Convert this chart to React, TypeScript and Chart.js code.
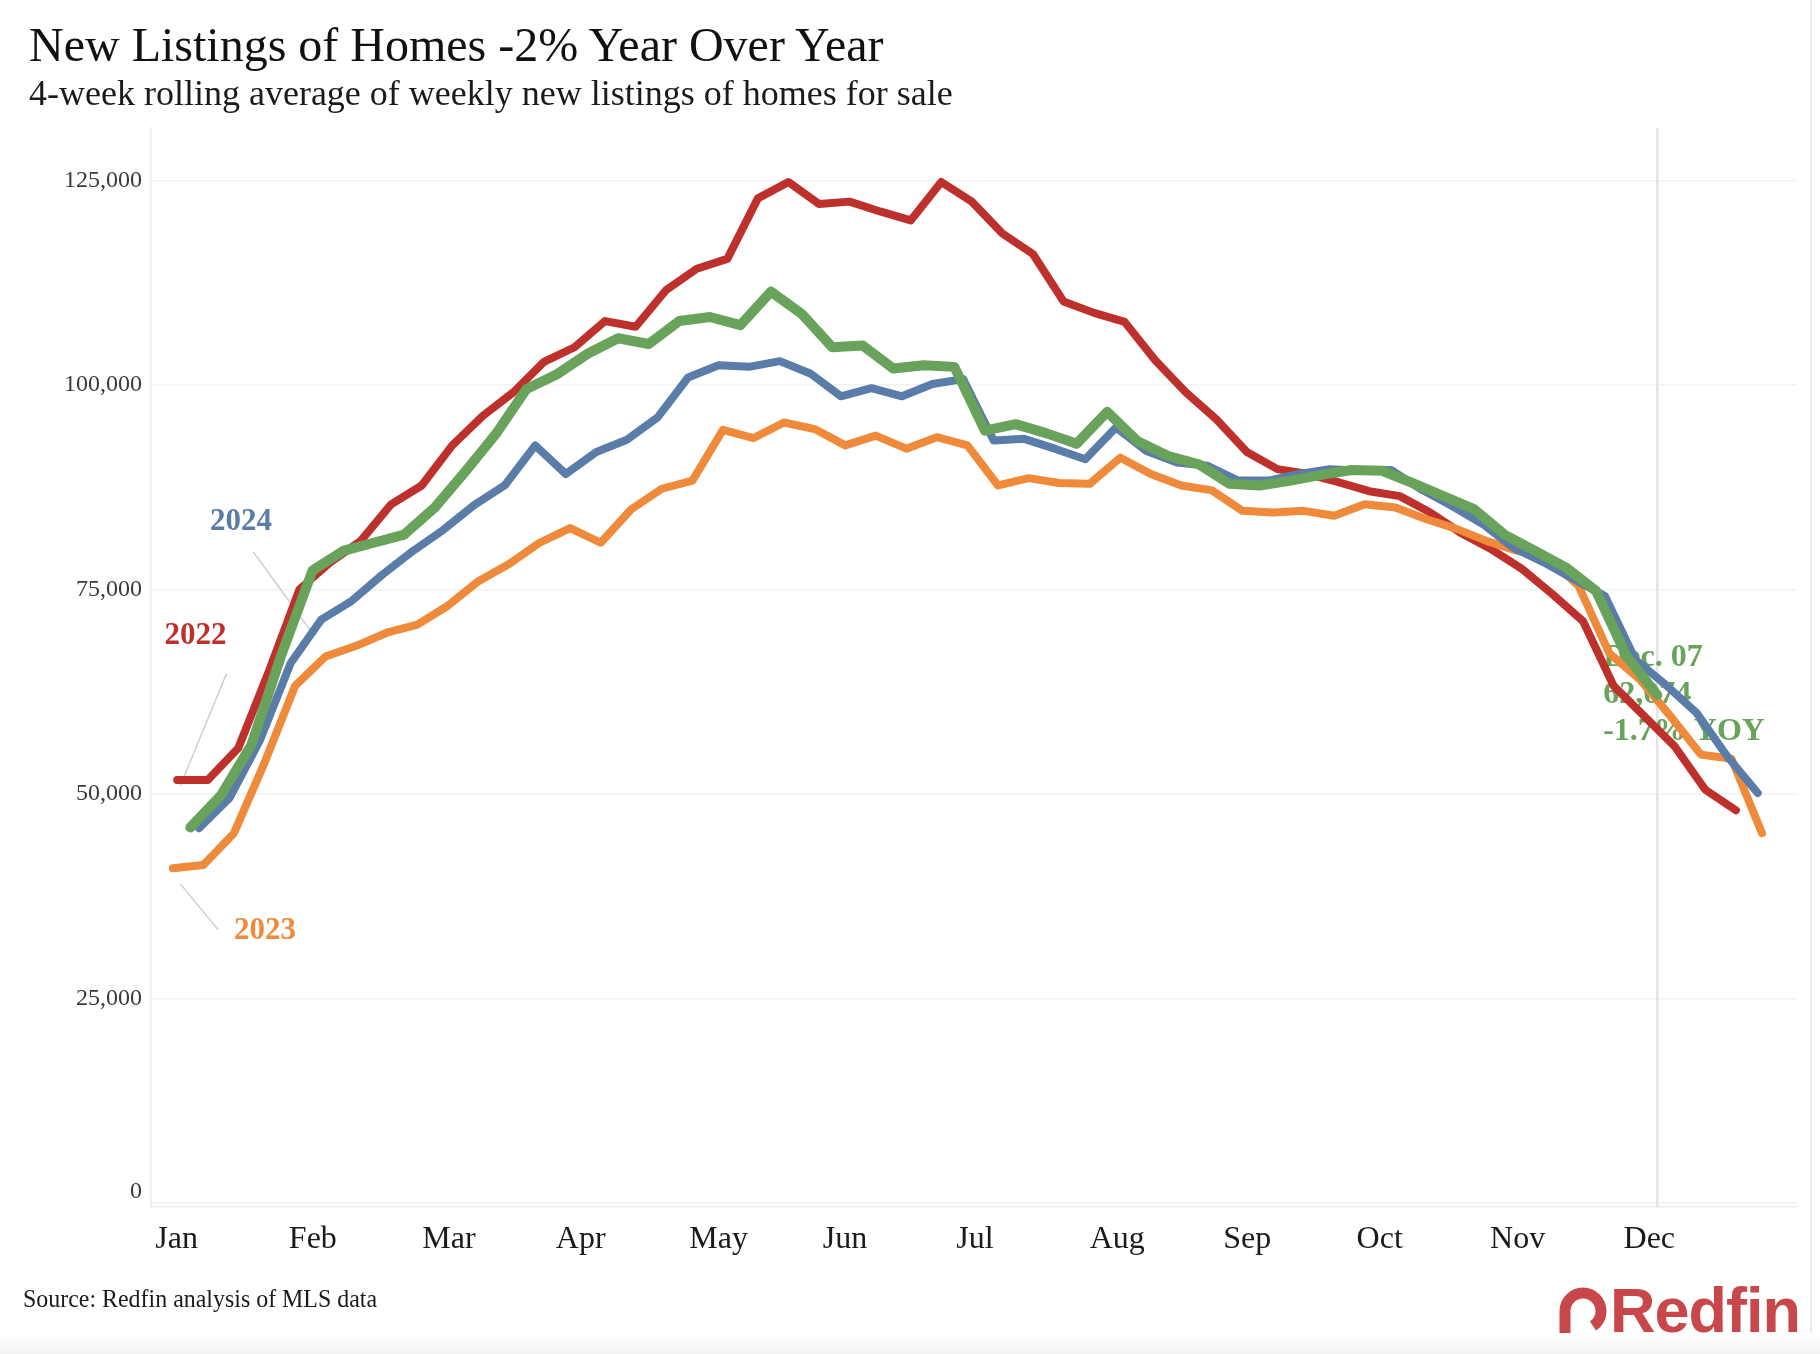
import React, { useEffect, useRef } from 'react';
import { Chart, registerables } from 'chart.js';

Chart.register(...registerables);

// ---- data ----
const MONTHS = ['Jan', 'Feb', 'Mar', 'Apr', 'May', 'Jun', 'Jul', 'Aug', 'Sep', 'Oct', 'Nov', 'Dec'];
const Y_TICKS = [0, 25000, 50000, 75000, 100000, 125000];
const YEARS = ['2022', '2023', '2024', '2025'];
// day-of-year (0 = Jan 1) of the first weekly data point of each year; weeks are 7 days apart
const FIRST_DAY_2022 = 1;
const FIRST_DAY_2023 = 0;
const FIRST_DAY_2024 = 6;
const FIRST_DAY_2025 = 4;
const MARKER_DAY = 340; // Dec. 07

const listings2022 = [51700, 51700, 55600, 65000, 75000, 78300, 80900, 85400, 87700, 92600,
  96200, 99100, 102800, 104600, 107800, 107100, 111600, 114200, 115400, 122800,
  124800, 122100, 122400, 121200, 120100, 124800, 122400, 118500, 116000, 110200,
  108800, 107700, 103000, 99100, 95800, 91800, 89700, 89100, 88100, 87000,
  86400, 84400, 81900, 79900, 77500, 74400, 71100, 63200, 59500, 55800,
  50500, 48000];

const listings2023 = [40900, 41300, 45200, 53800, 63200, 66800, 68100, 69700, 70700, 73000,
  76000, 78100, 80700, 82500, 80700, 84800, 87300, 88300, 94500, 93500,
  95400, 94600, 92600, 93800, 92200, 93600, 92600, 87700, 88600, 88000,
  87900, 91100, 89100, 87700, 87100, 84600, 84400, 84600, 84000, 85400,
  85000, 83600, 82400, 80900, 79700, 78900, 75400, 67200, 64000, 59500,
  54800, 54300, 45200];

const listings2024 = [45800, 49500, 56600, 66000, 71300, 73600, 76800, 79700, 82300, 85300,
  87700, 92600, 89100, 91800, 93300, 96000, 100900, 102400, 102200, 102900,
  101400, 98600, 99600, 98600, 100100, 100700, 93200, 93400, 92200, 90900,
  94800, 91900, 90500, 90100, 88300, 88300, 89100, 89700, 89500, 89600,
  87200, 85200, 83000, 80100, 78300, 76200, 74200, 66400, 63300, 59900,
  54600, 50100];

const listings2025 = [45900, 49800, 56000, 67200, 77300, 79700, 80700, 81700, 85000, 89400,
  94000, 99500, 101300, 103800, 105700, 105000, 107800, 108300, 107300, 111400,
  108700, 104600, 104800, 102000, 102400, 102200, 94400, 95200, 94100, 92800,
  96700, 93100, 91300, 90300, 87900, 87700, 88300, 89000, 89600, 89500,
  88000, 86400, 84800, 81700, 79700, 77700, 74800, 66800, 62074];

const ANNOTATION_LINES = ['Dec. 07', '62,074', '-1.7% YOY'];

// year-label anchors in data units [day, value] and leader lines [from, to]
const LABEL_2022 = [5.2, 69300];
const LABEL_2023 = [21.1, 33200];
const LABEL_2024 = [15.6, 83200];
const LEADER_2022 = [[12.3, 64700], [1.7, 51000]];
const LEADER_2023 = [[1.7, 39000], [10.4, 33400]];
const LEADER_2024 = [[18.4, 79600], [31.9, 69700]];
const ANNOT_ANCHOR = [327.6, 65600];

const RED = '#BD302B';
const ORANGE = '#EF8A3A';
const BLUE = '#5A7CA8';
const GREEN = '#69A25A';
const TICK_FONT = '24px "Liberation Serif"';

const toPoints = (vals: number[], first: number) => vals.map((v, i) => ({ x: first + 7 * i, y: v }));

const annotationPlugin = {
  id: 'redfinAnnotations',
  afterDraw(chart: any) {
    // the zero label sits slightly above its grid line, as in the original
    const { ctx } = chart;
    const ys = chart.scales.y;
    ctx.save();
    ctx.font = TICK_FONT;
    ctx.fillStyle = '#3a3a3a';
    ctx.textAlign = 'right';
    ctx.textBaseline = 'middle';
    ctx.fillText('0', ys.right - 9, ys.getPixelForValue(0) - 11);
    ctx.restore();
  },
  beforeDatasetsDraw(chart: any) {
    const { ctx, chartArea } = chart;
    const xs = chart.scales.x;
    const ys = chart.scales.y;
    const px = (d: number) => xs.getPixelForValue(d);
    const py = (v: number) => ys.getPixelForValue(v);
    ctx.save();
    // Dec 07 reference line
    ctx.strokeStyle = '#e4e4e4';
    ctx.lineWidth = 2.5;
    ctx.beginPath();
    ctx.moveTo(px(MARKER_DAY), chartArea.top);
    ctx.lineTo(px(MARKER_DAY), chartArea.bottom);
    ctx.stroke();

    // leader lines
    ctx.strokeStyle = '#cfcfcf';
    ctx.lineWidth = 1.5;
    [LEADER_2022, LEADER_2023, LEADER_2024].forEach((seg) => {
      ctx.beginPath();
      ctx.moveTo(px(seg[0][0]), py(seg[0][1]));
      ctx.lineTo(px(seg[1][0]), py(seg[1][1]));
      ctx.stroke();
    });

    // year labels
    ctx.font = 'bold 31px "Liberation Serif"';
    ctx.textAlign = 'center';
    ctx.textBaseline = 'middle';
    const labels: [string, number[], string][] = [
      [YEARS[0], LABEL_2022, RED],
      [YEARS[1], LABEL_2023, ORANGE],
      [YEARS[2], LABEL_2024, BLUE],
    ];
    labels.forEach(([t, pos, c]) => {
      ctx.fillStyle = c;
      ctx.fillText(t, px(pos[0]), py(pos[1]));
    });

    // Dec 07 annotation
    ctx.font = 'bold 32px "Liberation Serif"';
    ctx.textAlign = 'left';
    ctx.textBaseline = 'alphabetic';
    ctx.fillStyle = GREEN;
    const ax = px(ANNOT_ANCHOR[0]);
    const ay = py(ANNOT_ANCHOR[1]);
    ANNOTATION_LINES.forEach((t, i) => ctx.fillText(t, ax, ay + i * 37));
    ctx.restore();
  },
};

export default function App() {
  const canvasRef = useRef<HTMLCanvasElement | null>(null);

  useEffect(() => {
    if (!canvasRef.current) return;
    const chart = new Chart(canvasRef.current, {
      type: 'line',
      data: {
        datasets: [
          { label: YEARS[3], data: toPoints(listings2025, FIRST_DAY_2025), borderColor: GREEN, borderWidth: 10 },
          { label: YEARS[2], data: toPoints(listings2024, FIRST_DAY_2024), borderColor: BLUE, borderWidth: 8 },
          { label: YEARS[1], data: toPoints(listings2023, FIRST_DAY_2023), borderColor: ORANGE, borderWidth: 8 },
          { label: YEARS[0], data: toPoints(listings2022, FIRST_DAY_2022), borderColor: RED, borderWidth: 8 },
        ].map((d) => ({
          ...d,
          pointRadius: 0,
          pointHoverRadius: 0,
          tension: 0,
          fill: false,
          borderJoinStyle: 'round' as const,
          borderCapStyle: 'round' as const,
        })),
      },
      options: {
        animation: false,
        responsive: false,
        maintainAspectRatio: false,
        devicePixelRatio: 1,
        layout: { padding: { left: 0, right: 23, top: 128, bottom: 0 } },
        plugins: {
          legend: { display: false },
          tooltip: { enabled: false },
          title: { display: false },
        },
        scales: {
          x: {
            type: 'linear',
            min: -5,
            max: 372,
            grid: { display: false, drawTicks: false },
            border: { display: true, color: '#ececec', width: 1.5 },
            afterBuildTicks: (scale: any) => {
              scale.ticks = MONTHS.map((_, i) => ({ value: -4 + i * 30.57 }));
            },
            afterFit: (scale: any) => {
              scale.height = 147;
            },
            ticks: {
              autoSkip: false,
              maxRotation: 0,
              align: 'start',
              padding: 13,
              color: '#1a1a1a',
              font: { family: '"Liberation Serif"', size: 32 },
              callback: (_v: any, i: number) => MONTHS[i],
            },
          },
          y: {
            type: 'linear',
            min: -500,
            max: 131400,
            grid: { color: '#f1f1f1', lineWidth: 1.5, drawTicks: false },
            border: { display: true, color: '#ececec', width: 1.5 },
            afterBuildTicks: (scale: any) => {
              scale.ticks = Y_TICKS.map((v) => ({ value: v }));
            },
            afterFit: (scale: any) => {
              scale.width = 151;
            },
            ticks: {
              padding: 9,
              color: '#3a3a3a',
              font: { family: '"Liberation Serif"', size: 24 },
              callback: (v: any) => (Number(v) === 0 ? '' : Number(v).toLocaleString('en-US')),
            },
          },
        },
      } as any,
      plugins: [annotationPlugin],
    });
    return () => chart.destroy();
  }, []);

  return (
    <div
      style={{
        position: 'absolute',
        left: 0,
        top: 0,
        width: 1820,
        height: 1354,
        overflow: 'hidden',
        background: '#ffffff',
      }}
    >
      <canvas
        ref={canvasRef}
        width={1820}
        height={1354}
        style={{ position: 'absolute', left: 0, top: 0, width: 1820, height: 1354 }}
      />
      <div
        style={{
          position: 'absolute',
          left: 29,
          top: 20.8,
          fontFamily: '"Liberation Serif", serif',
          fontSize: 48,
          lineHeight: '48px',
          color: '#111',
          whiteSpace: 'nowrap',
        }}
      >
        New Listings of Homes -2% Year Over Year
      </div>
      <div
        style={{
          position: 'absolute',
          left: 29,
          top: 75,
          fontFamily: '"Liberation Serif", serif',
          fontSize: 36,
          lineHeight: '36px',
          color: '#1a1a1a',
          whiteSpace: 'nowrap',
        }}
      >
        4-week rolling average of weekly new listings of homes for sale
      </div>
      <div
        style={{
          position: 'absolute',
          left: 23,
          top: 1286,
          fontFamily: '"Liberation Serif", serif',
          fontSize: 26,
          lineHeight: '26px',
          color: '#1a1a1a',
          whiteSpace: 'nowrap',
          transform: 'scaleX(0.92)',
          transformOrigin: 'left top',
        }}
      >
        Source: Redfin analysis of MLS data
      </div>
      <svg
        width={52}
        height={47}
        viewBox="0 0 52 47"
        style={{ position: 'absolute', left: 1557, top: 1286 }}
      >
        <path
          d="M 8 47 L 8 25 A 18 18 0 1 1 44 25 A 18 18 0 0 1 36 40"
          stroke="#C8474A"
          strokeWidth={11}
          fill="none"
          strokeLinecap="butt"
        />
      </svg>
      <div
        style={{
          position: 'absolute',
          left: 1610,
          top: 1278.7,
          fontFamily: '"Liberation Sans", sans-serif',
          fontWeight: 'bold',
          fontSize: 63,
          lineHeight: '63px',
          color: '#C8474A',
          whiteSpace: 'nowrap',
          letterSpacing: -1,
        }}
      >
        Redfin
      </div>
      <div
        style={{
          position: 'absolute',
          left: 1810,
          top: 0,
          width: 1.5,
          height: 1354,
          background: '#ececec',
        }}
      />
      <div
        style={{
          position: 'absolute',
          left: 0,
          top: 1334,
          width: 1820,
          height: 20,
          background: 'linear-gradient(#ffffff, #f3f3f3)',
        }}
      />
    </div>
  );
}
